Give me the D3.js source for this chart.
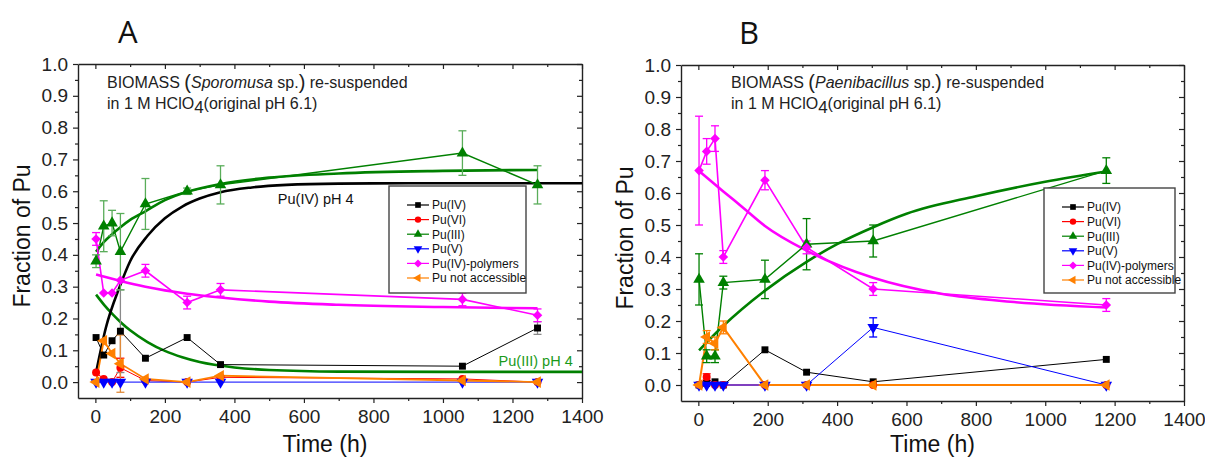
<!DOCTYPE html>
<html>
<head>
<meta charset="utf-8">
<script src="https://cdn.jsdelivr.net/npm/d3@7"></script>
<style>
  body { margin: 0; background: #fff; }
  svg { display: block; font-family: "Liberation Sans", Arial, sans-serif; }
</style>
</head>
<body>
<svg id="chart" width="1205" height="457"></svg>
<script>
// ---- series definitions -------------------------------------------------
const seriesNames = ["Pu(IV)", "Pu(VI)", "Pu(III)", "Pu(V)", "Pu(IV)-polymers", "Pu not accessible"];
const seriesColors = ["#000000", "#ff0000", "#008000", "#0000ff", "#ff00ff", "#ff8000"];
const seriesSymbols = ["square", "circle", "up", "down", "diamond", "left"];

// ---- axis ticks ---------------------------------------------------------
const xTicks = [0, 200, 400, 600, 800, 1000, 1200, 1400];
const xMinorTicks = [100, 300, 500, 700, 900, 1100, 1300];
const yTicks = [0, 0.1, 0.2, 0.3, 0.4, 0.5, 0.6, 0.7, 0.8, 0.9, 1.0];
const yMinorTicks = [0.05, 0.15, 0.25, 0.35, 0.45, 0.55, 0.65, 0.75, 0.85, 0.95];

// ---- panel A : Sporomusa sp. --------------------------------------------
const timeA = [2, 24, 48, 72, 144, 264, 360, 1056, 1272];
const puIV_A = [0.14, 0.085, 0.13, 0.16, 0.075, 0.14, 0.055, 0.05, 0.17];
const puVI_A = [0.03, 0.01, 0.0, 0.045, 0.005, 0.0, 0.015, 0.01, 0.0];
const puIII_A = [0.38, 0.49, 0.50, 0.41, 0.56, 0.60, 0.62, 0.72, 0.62];
const puV_A = [0, 0, 0, 0, 0, 0, 0, 0, 0];
const poly_A = [0.45, 0.28, 0.28, 0.32, 0.35, 0.25, 0.29, 0.26, 0.21];
const notAcc_A = [0.0, 0.13, 0.09, 0.058, 0.01, 0.0, 0.02, 0.005, 0.0];

const errIV_A = [null, null, null, 0.13, null, null, null, null, 0.02];
const errVI_A = [null, null, null, 0.03, null, null, null, null, null];
const errIII_A = [0.02, 0.08, 0.04, 0.12, 0.08, 0.01, 0.06, 0.07, 0.06];
const errV_A = [null, null, null, null, null, null, null, null, null];
const errPoly_A = [0.02, null, null, null, 0.02, 0.02, 0.02, 0.02, 0.02];
const errNotAcc_A = [null, null, null, 0.09, null, null, null, null, null];

// fitted kinetics, panel A
const fitA_IV_t = [2, 30, 70, 100, 150, 200, 250, 300, 360, 450, 550, 700, 900, 1400];
const fitA_IV_y = [0.03, 0.17, 0.30, 0.38, 0.46, 0.515, 0.552, 0.577, 0.597, 0.612, 0.62, 0.624, 0.625, 0.625];
const fitA_III_t = [2, 24, 48, 72, 100, 144, 200, 264, 360, 500, 700, 1000, 1272];
const fitA_III_y = [0.41, 0.44, 0.465, 0.487, 0.51, 0.537, 0.572, 0.598, 0.623, 0.643, 0.656, 0.664, 0.667];
const fitA_III4_t = [2, 25, 50, 75, 100, 150, 200, 250, 300, 400, 500, 700, 1000, 1400];
const fitA_III4_y = [0.275, 0.243, 0.213, 0.186, 0.163, 0.126, 0.098, 0.078, 0.063, 0.046, 0.038, 0.033, 0.032, 0.032];
const fitA_poly_t = [2, 72, 144, 264, 360, 500, 700, 1000, 1272];
const fitA_poly_y = [0.338, 0.318, 0.300, 0.278, 0.266, 0.253, 0.243, 0.236, 0.232];

// ---- panel B : Paenibacillus sp. ----------------------------------------
const timeB = [2, 24, 48, 72, 192, 312, 504, 1176];
const puIV_B = [0.0, 0.005, 0.01, 0.0, 0.11, 0.04, 0.01, 0.08];
const puVI_B = [0.0, 0.025, 0.0, 0.0, 0.0, 0.0, 0.0, 0.0];
const puIII_B = [0.33, 0.09, 0.09, 0.32, 0.33, 0.44, 0.45, 0.67];
const puV_B = [0, 0, 0, 0, 0, 0, 0.18, 0];
const poly_B = [0.67, 0.73, 0.77, 0.40, 0.64, 0.43, 0.30, 0.25];
const notAcc_B = [0.0, 0.15, 0.13, 0.18, 0.0, 0.0, 0.0, 0.0];

const errIV_B = [null, null, null, null, null, null, null, null];
const errVI_B = [null, 0.01, null, null, null, null, null, null];
const errIII_B = [0.08, 0.02, 0.02, 0.02, 0.06, 0.08, 0.05, 0.04];
const errV_B = [null, null, null, null, null, null, 0.03, null];
const errPoly_B = [0.17, 0.04, 0.04, 0.02, 0.03, 0.02, 0.02, 0.02];
const errNotAcc_B = [null, 0.02, 0.02, 0.02, null, null, null, null];

// fitted kinetics, panel B
const fitB_III_t = [2, 72, 192, 312, 400, 504, 600, 800, 1000, 1176];
const fitB_III_y = [0.108, 0.185, 0.295, 0.385, 0.44, 0.493, 0.535, 0.59, 0.635, 0.667];
const fitB_poly_t = [2, 72, 129, 192, 312, 504, 700, 900, 1176];
const fitB_poly_y = [0.669, 0.605, 0.554, 0.497, 0.42, 0.335, 0.285, 0.26, 0.242];

// ---- drawing ------------------------------------------------------------
const svg = d3.select("#chart");

function symbolPath(kind, size) {
  const map = { square: d3.symbolSquare, circle: d3.symbolCircle, up: d3.symbolTriangle,
                down: d3.symbolTriangle, diamond: d3.symbolSquare, left: d3.symbolTriangle };
  return d3.symbol(map[kind], size)();
}
function symbolRotation(kind) {
  return { down: 180, diamond: 45, left: -90 }[kind] || 0;
}
function symbolSize(kind) {
  return { square: 48, circle: 50, up: 58, down: 58, diamond: 46, left: 58 }[kind];
}

function drawPanel(p) {
  const g = svg.append("g");
  const x = d3.scaleLinear().domain([-50, 1400]).range([p.left, p.right]);
  const y = d3.scaleLinear().domain([-0.05, 1.0]).range([p.bottom, p.top]);

  const styleAxis = sel => {
    sel.selectAll("path.domain").attr("stroke", "#222").attr("stroke-width", 1.4);
    sel.selectAll(".tick line").attr("stroke", "#222").attr("stroke-width", 1.2);
    sel.selectAll(".tick text").attr("font-size", 19).attr("fill", "#222")
       .attr("font-family", "'Liberation Sans', Arial, sans-serif");
  };

  // bottom axis
  g.append("g").attr("transform", `translate(0,${p.bottom})`)
    .call(d3.axisBottom(x).tickValues(xTicks).tickSize(5).tickSizeOuter(0).tickPadding(7)
      .tickFormat(d3.format("d")))
    .call(styleAxis);
  g.append("g").attr("transform", `translate(0,${p.bottom})`)
    .call(d3.axisBottom(x).tickValues(xMinorTicks).tickSize(3).tickFormat(""))
    .call(s => s.select(".domain").remove()).call(styleAxis);
  // top mirror axis
  g.append("g").attr("transform", `translate(0,${p.top})`)
    .call(d3.axisTop(x).tickValues(xTicks).tickSize(-5).tickSizeOuter(0).tickFormat(""))
    .call(styleAxis);
  g.append("g").attr("transform", `translate(0,${p.top})`)
    .call(d3.axisTop(x).tickValues(xMinorTicks).tickSize(-3).tickFormat(""))
    .call(s => s.select(".domain").remove()).call(styleAxis);
  // left axis
  g.append("g").attr("transform", `translate(${p.left},0)`)
    .call(d3.axisLeft(y).tickValues(yTicks).tickSize(5).tickSizeOuter(0).tickPadding(5)
      .tickFormat(d3.format(".1f")))
    .call(styleAxis);
  g.append("g").attr("transform", `translate(${p.left},0)`)
    .call(d3.axisLeft(y).tickValues(yMinorTicks).tickSize(3).tickFormat(""))
    .call(s => s.select(".domain").remove()).call(styleAxis);
  // right mirror axis
  g.append("g").attr("transform", `translate(${p.right},0)`)
    .call(d3.axisRight(y).tickValues(yTicks).tickSize(-5).tickSizeOuter(0).tickFormat(""))
    .call(styleAxis);
  g.append("g").attr("transform", `translate(${p.right},0)`)
    .call(d3.axisRight(y).tickValues(yMinorTicks).tickSize(-3).tickFormat(""))
    .call(s => s.select(".domain").remove()).call(styleAxis);

  // axis titles
  g.append("text").attr("x", (p.left + p.right) / 2 + p.titleShift).attr("y", 452)
    .attr("text-anchor", "middle").attr("font-size", 23).attr("fill", "#111").text("Time (h)");
  g.append("text").attr("transform", `translate(${p.yTitleX},${(p.top + p.bottom) / 2 + 5}) rotate(-90)`)
    .attr("text-anchor", "middle").attr("font-size", 23).attr("fill", "#111").text("Fraction of Pu");

  // panel letter
  g.append("text").attr("x", p.letterX).attr("y", p.letterY)
    .attr("font-size", 31).attr("fill", "#111")
    .attr("font-family", "'Open Sans', 'Liberation Sans', sans-serif").text(p.letter);

  // description text
  const t1 = g.append("text").attr("x", p.noteX).attr("y", 87.5).attr("font-size", 16).attr("fill", "#222");
  t1.append("tspan").text("BIOMASS ");
  t1.append("tspan").attr("font-size", 20).attr("dy", 1).text("(");
  t1.append("tspan").attr("font-style", "italic").attr("dy", -1).text(p.organism);
  t1.append("tspan").text(" sp.");
  t1.append("tspan").attr("font-size", 20).attr("dy", 1).text(")");
  t1.append("tspan").attr("dy", -1).text(" re-suspended");
  const t2 = g.append("text").attr("x", p.noteX).attr("y", 108.5).attr("font-size", 16).attr("fill", "#222");
  t2.append("tspan").text("in 1 M HClO");
  t2.append("tspan").attr("font-size", 17).attr("dy", 4).text("4");
  t2.append("tspan").attr("dy", -4).text("(original pH 6.1)");

  // fitted curves
  const fitLine = d3.line().x(d => x(d[0])).y(d => y(d[1])).curve(d3.curveMonotoneX);
  p.fits.forEach(f => {
    g.append("path").datum(d3.zip(f.t, f.y)).attr("d", fitLine)
      .attr("fill", "none").attr("stroke", f.color).attr("stroke-width", 2.6);
  });

  // measured series: lines, error bars, symbols
  const dataLine = d3.line().x(d => x(d[0])).y(d => y(d[1]));
  p.series.forEach((vals, i) => {
    g.append("path").datum(d3.zip(p.time, vals)).attr("d", dataLine)
      .attr("fill", "none").attr("stroke", seriesColors[i]).attr("stroke-width", p.lineWidths[i]);
  });
  p.series.forEach((vals, i) => {
    const errs = p.errors[i];
    const col = p.errColors[i] || seriesColors[i];
    p.time.forEach((t, k) => {
      const e = errs[k];
      if (e == null) return;
      const cx = x(t), y0 = y(vals[k] - e), y1 = y(vals[k] + e);
      g.append("line").attr("x1", cx).attr("x2", cx).attr("y1", y0).attr("y2", y1)
        .attr("stroke", col).attr("stroke-width", 1.3);
      [y0, y1].forEach(yy => g.append("line").attr("x1", cx - 4).attr("x2", cx + 4)
        .attr("y1", yy).attr("y2", yy).attr("stroke", col).attr("stroke-width", 1.3));
    });
  });
  p.series.forEach((vals, i) => {
    const kind = seriesSymbols[i];
    g.append("g").selectAll("path").data(d3.zip(p.time, vals)).join("path")
      .attr("d", symbolPath(kind, symbolSize(kind)))
      .attr("transform", d => `translate(${x(d[0])},${y(d[1])}) rotate(${symbolRotation(kind)})`)
      .attr("fill", seriesColors[i]);
  });

  // curve labels
  p.curveLabels.forEach(l => {
    g.append("text").attr("x", x(l.t)).attr("y", y(l.v)).attr("font-size", 14.5)
      .attr("fill", l.color).text(l.text);
  });

  // legend
  const L = p.legend;
  g.append("rect").attr("x", L.x).attr("y", L.y).attr("width", L.w).attr("height", L.h)
    .attr("fill", "#fff").attr("stroke", "#444").attr("stroke-width", 1.4);
  seriesNames.forEach((name, i) => {
    const cy = L.y + 19 + i * 14.6;
    const sx = L.x + 18;
    g.append("line").attr("x1", sx).attr("x2", sx + 22).attr("y1", cy).attr("y2", cy)
      .attr("stroke", seriesColors[i]).attr("stroke-width", 1.2);
    const kind = seriesSymbols[i];
    g.append("path").attr("d", symbolPath(kind, 32))
      .attr("transform", `translate(${sx + 11},${cy}) rotate(${symbolRotation(kind)})`)
      .attr("fill", seriesColors[i]);
    g.append("text").attr("x", sx + 25).attr("y", cy + 4.3).attr("font-size", 12)
      .attr("fill", "#111").text(name);
  });
}

drawPanel({
  left: 78, right: 582, top: 64, bottom: 398,
  letter: "A", letterX: 118, letterY: 43,
  titleShift: -5, yTitleX: 30,
  noteX: 107, organism: "Sporomusa",
  time: timeA,
  series: [puIV_A, puVI_A, puIII_A, puV_A, poly_A, notAcc_A],
  errors: [errIV_A, errVI_A, errIII_A, errV_A, errPoly_A, errNotAcc_A],
  errColors: ["#8a8a8a", null, "#5aad5a", null, null, "#e08a3a"],
  lineWidths: [1, 1, 1.4, 1, 1.6, 1.8],
  fits: [
    { t: fitA_III4_t, y: fitA_III4_y, color: "#008000" },
    { t: fitA_poly_t, y: fitA_poly_y, color: "#ff00ff" },
    { t: fitA_IV_t, y: fitA_IV_y, color: "#000000" },
    { t: fitA_III_t, y: fitA_III_y, color: "#008000" }
  ],
  curveLabels: [
    { text: "Pu(IV) pH 4", t: 525, v: 0.56, color: "#111" },
    { text: "Pu(III) pH 4", t: 1160, v: 0.05, color: "#1a9a1a" }
  ],
  legend: { x: 389, y: 186, w: 137, h: 107 }
});

drawPanel({
  left: 681, right: 1184, top: 65, bottom: 401,
  letter: "B", letterX: 739, letterY: 44,
  titleShift: 0, yTitleX: 633,
  noteX: 731, organism: "Paenibacillus",
  time: timeB,
  series: [puIV_B, puVI_B, puIII_B, puV_B, poly_B, notAcc_B],
  errors: [errIV_B, errVI_B, errIII_B, errV_B, errPoly_B, errNotAcc_B],
  errColors: [null, null, null, null, null, null],
  lineWidths: [1, 1, 1.4, 1, 1.6, 2],
  fits: [
    { t: fitB_III_t, y: fitB_III_y, color: "#008000" },
    { t: fitB_poly_t, y: fitB_poly_y, color: "#ff00ff" }
  ],
  curveLabels: [],
  legend: { x: 1044, y: 188, w: 131, h: 105 }
});
</script>
</body>
</html>
